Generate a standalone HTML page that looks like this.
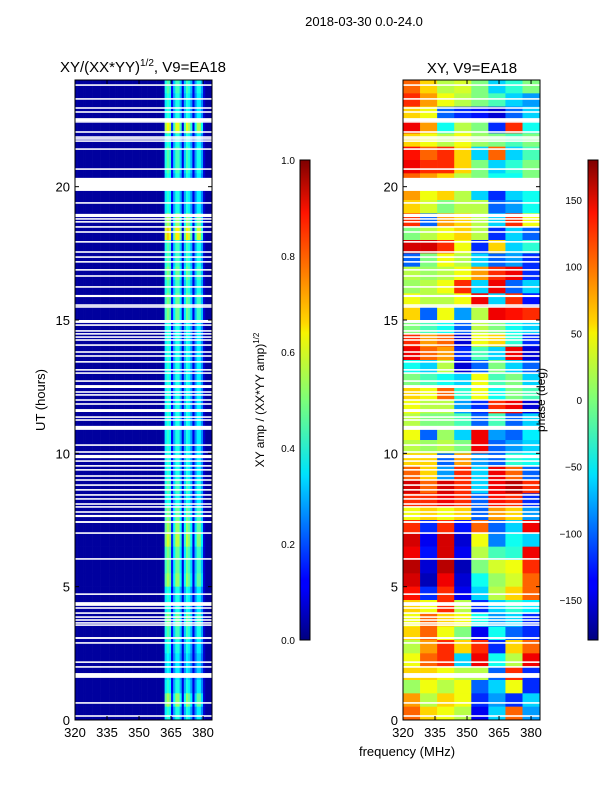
<!DOCTYPE html>
<html><head><meta charset="utf-8">
<style>
body{margin:0;background:#fff;}
svg{display:block;font-family:"Liberation Sans",sans-serif;}
</style></head>
<body>
<svg id="fig" width="600" height="800" viewBox="0 0 600 800">
<defs>
<linearGradient id="jetv" x1="0" y1="1" x2="0" y2="0">
<stop offset="0" stop-color="#00007f"/><stop offset="0.11" stop-color="#0000ff"/><stop offset="0.125" stop-color="#0000ff"/>
<stop offset="0.34" stop-color="#00dcff"/><stop offset="0.35" stop-color="#00e4f8"/><stop offset="0.5" stop-color="#7cff79"/>
<stop offset="0.64" stop-color="#f7f400"/><stop offset="0.66" stop-color="#ffd700"/><stop offset="0.89" stop-color="#ff1300"/>
<stop offset="1" stop-color="#7f0000"/></linearGradient>
</defs>
<text x="364" y="26" font-size="13" text-anchor="middle">2018-03-30 0.0-24.0</text>
<text x="143" y="72" font-size="15" text-anchor="middle">XY/(XX*YY)<tspan font-size="10" dy="-6">1/2</tspan><tspan dy="6">, V9=EA18</tspan></text>
<text x="472" y="73" font-size="15" text-anchor="middle">XY, V9=EA18</text>
<g id="ampPanel"></g>
<g id="phasePanel"></g>
<g id="axes"></g>
<text transform="translate(45,400) rotate(-90)" font-size="13" text-anchor="middle">UT (hours)</text>
<text x="407" y="756" font-size="13" text-anchor="middle">frequency (MHz)</text>
<rect x="300" y="160" width="10" height="480" fill="url(#jetv)" stroke="#000" stroke-width="1"/>
<rect x="588" y="160" width="10" height="480" fill="url(#jetv)" stroke="#000" stroke-width="1"/>
<text transform="translate(264,400) rotate(-90)" font-size="12" text-anchor="middle">XY amp / (XX*YY amp)<tspan font-size="8" dy="-5">1/2</tspan></text>
<text transform="translate(545,400) rotate(-90)" font-size="12" text-anchor="middle">phase (deg)</text>
</svg>
<script>
const freqMin=320, freqMax=384.2, hMin=0, hMax=24;
const xTicks=[320,335,350,365,380];
const yTicks=[0,5,10,15,20];
const ampCbTicks=[0.0,0.2,0.4,0.6,0.8,1.0];
const phCbTicks=[-150,-100,-50,0,50,100,150];
// amplitude per 1-MHz channel (320..383)
const ampChan=[0.03,0.03,0.03,0.03,0.03,0.03,0.03,0.03,0.03,0.03,0.03,0.03,0.03,0.03,0.03,0.03,0.03,0.03,0.03,0.03,
0.03,0.03,0.03,0.03,0.03,0.03,0.03,0.03,0.03,0.03,0.03,0.03,0.03,0.03,0.03,0.03,0.03,0.03,0.03,0.03,0.03,0.04,
0.36,0.42,0.38,0.12,0.3,0.4,0.4,0.3,0.1,0.3,0.4,0.36,0.28,0.1,0.26,0.36,0.36,0.26,0.08,0.03,0.03,0.03];
// amplitude gain per half-hour row, top (23.5-24) first
const ampRowGain=[1.1,1.0,1.0,1.5,1.0,1.1,1.1,1.0,1.0,1.0,1.3,1.6,1.1,1.1,1.2,1.1,1.2,1.2,1.0,1.0,1.0,1.0,1.0,1.0,
1.0,1.0,1.0,1.0,1.0,1.0,1.1,1.0,1.2,1.3,1.4,1.2,1.2,1.3,1.0,1.0,1.2,1.1,1.0,0.9,0.9,1.0,1.3,1.0];
// phase (deg) per half-hour row (top first) x 8 freq bins of 8 MHz
const phaseRows=[
[100,60,20,30,0,-60,-30,0],[120,80,40,20,0,-20,-60,-80],[60,40,-100,-120,-130,-150,-100,-60],[140,80,-40,20,0,-120,120,-40],
[60,40,20,40,10,0,-20,0],[130,100,120,60,-60,100,-60,-20],[140,120,120,60,0,-60,-30,0],[100,80,60,20,0,-40,-40,0],
[80,40,60,20,-60,-120,-60,-40],[60,30,0,20,20,-100,-80,-40],[120,-100,80,60,20,-60,120,40],[0,20,40,60,20,-120,-60,-100],
[150,150,120,40,-120,60,-60,-30],[-100,0,40,20,-60,-100,-80,-120],[20,10,20,40,80,120,140,-120],[10,20,40,120,-60,140,-100,-60],
[40,20,20,40,140,-60,120,-130],[60,-100,40,-80,20,140,130,120],[0,-20,-40,-100,20,0,-40,-60],[120,80,100,-150,40,60,-30,-120],
[140,100,80,-120,-20,-60,140,-150],[-40,-60,20,-150,-100,0,-60,-100],[0,-20,-40,-60,40,-20,0,-60],[60,40,100,-30,40,-40,0,-20],
[40,20,20,-80,-120,120,140,-150],[20,0,0,-20,-100,-20,-100,-60],[40,-100,10,-60,140,-80,-100,-50],[20,10,20,0,140,-100,-80,-60],
[60,60,-100,80,-80,-100,-30,-40],[100,60,-80,120,-60,140,100,-100],[150,100,150,120,-60,140,160,120],[120,120,140,120,-100,130,120,-120],
[40,60,40,60,-100,80,60,-80],[120,-120,120,-130,100,-100,-60,140],[150,-140,150,-150,40,-90,-40,-60],[140,-130,150,-140,20,-20,-30,140],
[160,-150,160,-160,0,30,40,120],[150,-160,140,-150,-40,10,30,100],[130,-120,120,-140,-60,20,60,100],[60,40,120,20,-120,-60,-30,-50],
[40,100,60,40,-40,-80,-60,-120],[60,100,40,0,-140,-40,-100,-120],[20,80,120,60,120,-120,60,100],[40,100,120,-60,140,-40,20,140],
[60,60,40,20,20,-100,120,-120],[10,40,20,40,-100,-60,40,-120],[80,20,60,40,-120,-80,-120,-60],[100,60,40,20,-140,-60,100,-80]];
// flagged UT intervals [lo, hi] in hours
const flags=[[23.78,23.84],[23.26,23.32],[22.92,22.98],[22.77,22.83],[22.46,22.57],[22.40,22.46],[22.02,22.08],[21.83,21.89],
[21.76,21.82],[21.68,21.74],[21.38,21.44],[20.63,20.69],[19.84,20.33],[19.36,19.42],[18.86,18.98],[18.76,18.82],[18.65,18.71],
[18.46,18.52],[18.27,18.33],[17.90,17.96],[17.52,17.58],[17.33,17.39],[17.15,17.21],[16.85,16.91],[16.62,16.68],[16.21,16.27],
[15.86,15.94],[15.53,15.59],[15.46,15.52],[14.89,15.0],[14.78,14.84],[14.56,14.62],[14.45,14.51],[14.33,14.39],[14.22,14.28],
[14.03,14.09],[13.77,13.83],[13.62,13.68],[13.40,13.46],[13.10,13.16],[12.98,13.04],[12.68,12.74],[12.45,12.56],[12.27,12.33],
[12.16,12.22],[11.97,12.03],[11.82,11.88],[11.55,11.66],[11.33,11.39],[11.22,11.28],[10.88,11.03],[10.28,10.34],[10.02,10.08],
[9.82,9.94],[9.68,9.74],[9.50,9.56],[9.35,9.41],[9.12,9.18],[8.97,9.03],[8.78,8.84],[8.60,8.66],[8.41,8.47],[8.26,8.32],
[8.07,8.13],[7.96,8.02],[7.77,7.83],[7.61,7.69],[7.39,7.46],[6.98,7.04],[6.01,6.07],[4.69,4.75],[4.28,4.42],[4.17,4.23],
[3.98,4.04],[3.83,3.89],[3.72,3.78],[3.61,3.67],[3.53,3.59],[3.04,3.11],[2.86,2.92],[2.14,2.20],[1.96,2.02],[1.58,1.76],
[0.61,0.67],[0.12,0.18]];

const NS='http://www.w3.org/2000/svg';
const L={x0:75,x1:212,y0:80,y1:720}, R={x0:403,x1:540,y0:80,y1:720};
function xs(p,f){return p.x0+(f-freqMin)/(freqMax-freqMin)*(p.x1-p.x0);}
function ys(p,h){return p.y1-(h-hMin)/(hMax-hMin)*(p.y1-p.y0);}
function jet(v){v=Math.max(0,Math.min(1,v));
 const r=Math.max(0,Math.min(1,1.5-Math.abs(4*v-3))),g=Math.max(0,Math.min(1,1.5-Math.abs(4*v-2))),b=Math.max(0,Math.min(1,1.5-Math.abs(4*v-1)));
 return `rgb(${Math.round(r*255)},${Math.round(g*255)},${Math.round(b*255)})`;}
function mk(tag,attrs,parent){const e=document.createElementNS(NS,tag);for(const k in attrs)e.setAttribute(k,attrs[k]);parent.appendChild(e);return e;}

const ampG=document.getElementById('ampPanel');
ampRowGain.forEach((g,ri)=>{
 const hTop=hMax-ri*0.5, hBot=hTop-0.5;
 ampChan.forEach((a,ci)=>{
  const f=freqMin+ci, f2=Math.min(freqMax,f+1);
  const v=a>0.1?Math.min(1,a*g):a;
  const r=mk('rect',{x:xs(L,f),y:ys(L,hTop),width:xs(L,f2)-xs(L,f)+0.3,height:ys(L,hBot)-ys(L,hTop)+0.3,fill:jet(v)},ampG);
  
  
 });
});
const phG=document.getElementById('phasePanel');
phaseRows.forEach((row,ri)=>{
 const hTop=hMax-ri*0.5, hBot=hTop-0.5;
 row.forEach((p,ci)=>{
  const f=freqMin+ci*8, f2=Math.min(freqMax,f+8);
  const r=mk('rect',{x:xs(R,f),y:ys(R,hTop),width:xs(R,f2)-xs(R,f)+0.3,height:ys(R,hBot)-ys(R,hTop)+0.3,fill:jet((p+180)/360)},phG);
  
  
 });
});
const ax=document.getElementById('axes');
[L,R].forEach((P,pi)=>{
 flags.forEach(fl=>{
  const r=mk('rect',{x:P.x0,y:ys(P,fl[1]),width:P.x1-P.x0,height:Math.max(1.4,ys(P,fl[0])-ys(P,fl[1])),fill:'#fff'},ax);
  
  
 });
 const fr=mk('rect',{x:P.x0,y:P.y0,width:P.x1-P.x0,height:P.y1-P.y0,fill:'none',stroke:'#000','stroke-width':1},ax);
 
 
 xTicks.forEach(t=>{
  const x=xs(P,t);
  mk('line',{x1:x,y1:P.y1,x2:x,y2:P.y1-4,stroke:'#000'},ax);
  mk('line',{x1:x,y1:P.y0,x2:x,y2:P.y0+4,stroke:'#000'},ax);
  const tx=mk('text',{x:x,y:P.y1+17,'font-size':13,'text-anchor':'middle'},ax);tx.textContent=t;
  
  
 });
 yTicks.forEach(t=>{
  const y=ys(P,t);
  mk('line',{x1:P.x0,y1:y,x2:P.x0+4,y2:y,stroke:'#000'},ax);
  mk('line',{x1:P.x1,y1:y,x2:P.x1-4,y2:y,stroke:'#000'},ax);
  const tx=mk('text',{x:P.x0-5,y:y+5,'font-size':13,'text-anchor':'end'},ax);tx.textContent=t;
  
  
 });
});
ampCbTicks.forEach(t=>{
 const y=640-t*480;
 mk('line',{x1:300,y1:y,x2:303,y2:y,stroke:'#000'},ax);
 const tx=mk('text',{x:295,y:y+4,'font-size':10,'text-anchor':'end'},ax);tx.textContent=t.toFixed(1);
 
 
});
phCbTicks.forEach(t=>{
 const y=400-t*480/360;
 mk('line',{x1:588,y1:y,x2:591,y2:y,stroke:'#000'},ax);
 const tx=mk('text',{x:582,y:y+4,'font-size':10,'text-anchor':'end'},ax);tx.textContent=t<0?'\u2212'+(-t):t;
 
 
});
</script>
</body></html>
